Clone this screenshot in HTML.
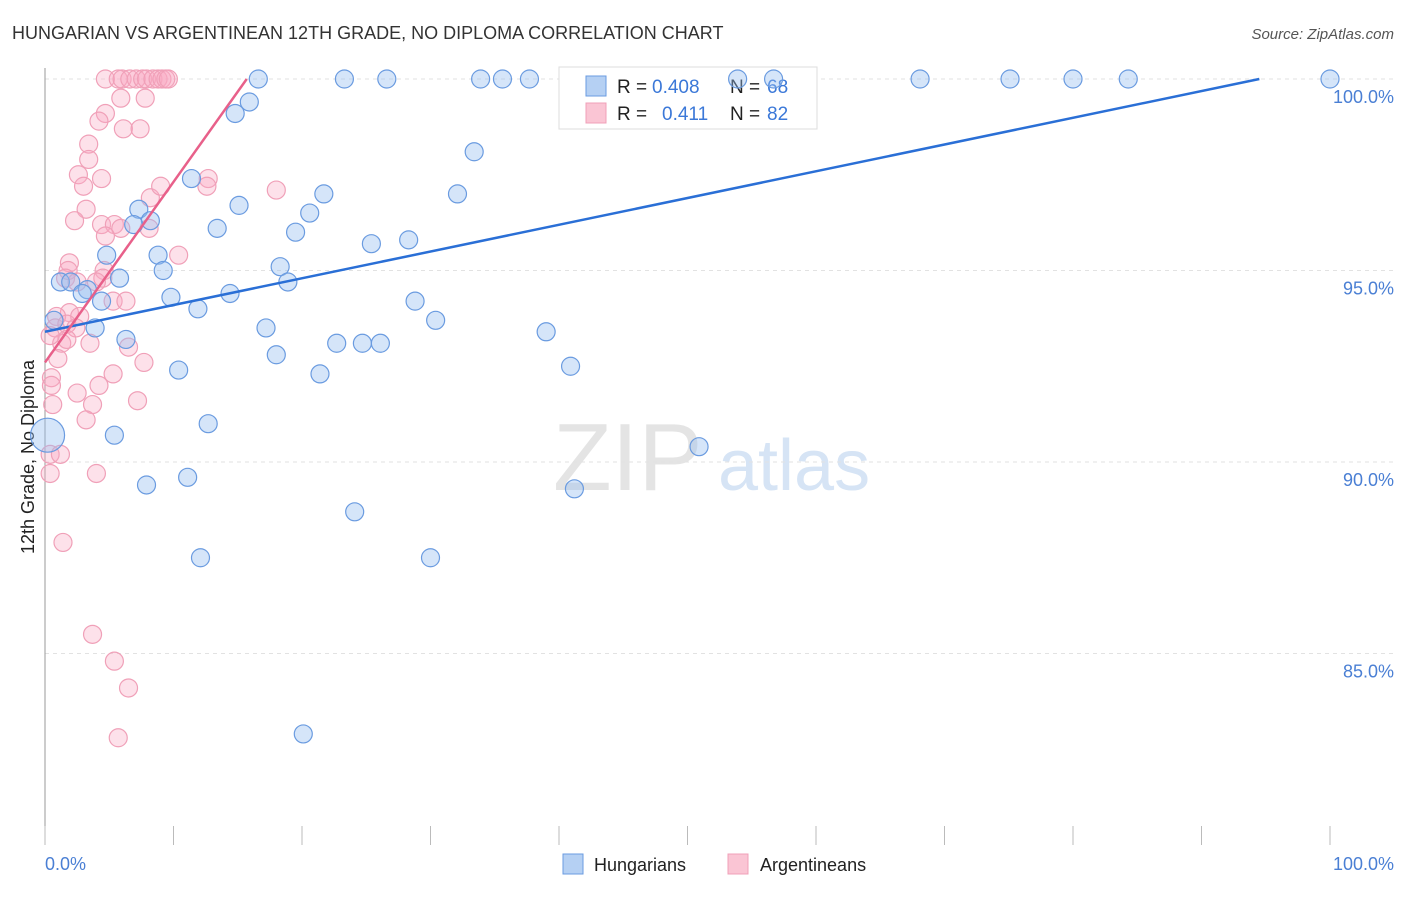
<!DOCTYPE html>
<html><head><meta charset="utf-8"><style>
body{margin:0;background:#fff;font-family:"Liberation Sans",sans-serif;}
svg text{font-family:"Liberation Sans",sans-serif;}
</style></head><body>
<svg id="chart" width="1406" height="892" viewBox="0 0 1406 892" xmlns="http://www.w3.org/2000/svg">
<text x="12" y="39" font-size="18" fill="#333">HUNGARIAN VS ARGENTINEAN 12TH GRADE, NO DIPLOMA CORRELATION CHART</text>
<text x="1394" y="39" font-size="15" fill="#555" text-anchor="end" font-style="italic">Source: ZipAtlas.com</text>
<g>
<text x="553" y="490" font-size="96" fill="#e4e4e4" font-family="Liberation Serif, serif">ZIP</text>
<text x="718" y="490" font-size="72" fill="#d6e4f5">atlas</text>
</g>
<g id="grid"></g>
<line x1="45" y1="68" x2="45" y2="845" stroke="#999" stroke-width="1"/>
<g id="xticks"></g>
<text transform="translate(34,457) rotate(-90)" font-size="18" fill="#222" text-anchor="middle">12th Grade, No Diploma</text>
<text x="45" y="870" font-size="18" fill="#4a7fd4">0.0%</text>
<text x="1394" y="870" font-size="18" fill="#4a7fd4" text-anchor="end">100.0%</text>
<g>
<rect x="559" y="67" width="258" height="62" fill="#fff" stroke="#ddd"/>
<rect x="586" y="76" width="20" height="20" fill="#b5d0f3" stroke="#6a9be0"/>
<rect x="586" y="103" width="20" height="20" fill="#fac5d4" stroke="#f0a0b8"/>
<text x="617" y="93" font-size="19" fill="#222">R =</text>
<text x="652" y="93" font-size="19" fill="#3b78d8">0.408</text>
<text x="730" y="93" font-size="19" fill="#222">N =</text>
<text x="767" y="93" font-size="19" fill="#3b78d8">68</text>
<text x="617" y="120" font-size="19" fill="#222">R =</text>
<text x="662" y="120" font-size="19" fill="#3b78d8">0.411</text>
<text x="730" y="120" font-size="19" fill="#222">N =</text>
<text x="767" y="120" font-size="19" fill="#3b78d8">82</text>
</g>
<g id="pts"></g>
<g id="lines"></g>
<g>
<rect x="563" y="854" width="20" height="20" fill="#b5d0f3" stroke="#6a9be0"/>
<text x="594" y="871" font-size="18" fill="#222">Hungarians</text>
<rect x="728" y="854" width="20" height="20" fill="#fac5d4" stroke="#f0a0b8"/>
<text x="760" y="871" font-size="18" fill="#222">Argentineans</text>
</g>
</svg>
<script>
const yTicks=[100,95,90,85];
const yTickLabels=["100.0%","95.0%","90.0%","85.0%"];
const xTickVals=[0,10,20,30,40,50,60,70,80,90,100];
const blueX=[16.6,23.3,26.6,33.9,35.6,37.7,53.9,56.7,68.1,75.1,80.0,84.3,100.0,15.9,14.8,33.4,11.4,32.1,21.7,15.1,20.6,7.3,8.2,6.9,13.4,19.5,25.4,28.3,4.8,8.8,9.2,18.3,1.2,2.0,3.3,2.9,18.9,5.8,4.4,9.8,14.4,11.9,28.8,30.4,0.7,3.9,17.2,39.0,6.3,22.7,24.7,26.1,18.0,10.4,21.4,40.9,12.7,5.4,0.2,50.9,7.9,11.1,41.2,24.1,12.1,30.0,20.1];
const blueY=[100,100,100,100,100,100,100,100,100,100,100,100,100,99.4,99.1,98.1,97.4,97.0,97.0,96.7,96.5,96.6,96.3,96.2,96.1,96.0,95.7,95.8,95.4,95.4,95.0,95.1,94.7,94.7,94.5,94.4,94.7,94.8,94.2,94.3,94.4,94.0,94.2,93.7,93.7,93.5,93.5,93.4,93.2,93.1,93.1,93.1,92.8,92.4,92.3,92.5,91.0,90.7,90.7,90.4,89.4,89.6,89.3,88.7,87.5,87.5,82.9];
const pinkX=[4.7,5.7,6.0,6.6,7.1,7.6,7.9,8.4,8.8,9.1,9.4,9.6,5.9,7.8,4.7,6.1,7.4,4.2,3.4,3.4,2.6,3.0,4.4,12.7,12.6,18.0,8.2,9.0,3.2,2.3,4.4,5.4,5.9,8.1,4.7,10.4,1.9,1.8,1.6,4.6,4.5,2.5,4.0,5.3,6.3,1.9,2.7,0.9,0.8,1.7,2.4,1.3,3.5,1.7,0.4,6.5,1.0,7.7,5.3,0.5,0.5,4.2,2.5,7.2,3.7,0.6,3.2,0.4,1.2,4.0,0.4,1.4,3.7,5.4,6.5,5.7];
const pinkY=[100,100,100,100,100,100,100,100,100,100,100,100,99.5,99.5,99.1,98.7,98.7,98.9,98.3,97.9,97.5,97.2,97.4,97.4,97.2,97.1,96.9,97.2,96.6,96.3,96.2,96.2,96.1,96.1,95.9,95.4,95.2,95.0,94.8,95.0,94.8,94.7,94.7,94.2,94.2,93.9,93.8,93.8,93.5,93.6,93.5,93.1,93.1,93.2,93.3,93.0,92.7,92.6,92.3,92.2,92.0,92.0,91.8,91.6,91.5,91.5,91.1,90.2,90.2,89.7,89.7,87.9,85.5,84.8,84.1,82.8];
const blueTrendX=[0,94.5];
const blueTrendY=[93.4,100];
const pinkTrendX=[0,15.7];
const pinkTrendY=[92.6,100];

const NS="http://www.w3.org/2000/svg";
const xs=v=>45+v*12.85;
const ys=v=>845-(v-80)*38.3;
function mk(tag,attrs,parent){const e=document.createElementNS(NS,tag);for(const k in attrs)e.setAttribute(k,attrs[k]);parent.appendChild(e);return e;}
const grid=document.getElementById('grid');
yTicks.forEach((t,i)=>{
  const l=mk('line',{x1:45,x2:1394,y1:ys(t),y2:ys(t),stroke:'#e2e2e2','stroke-dasharray':'4,4'},grid);
  
  
  const tx=mk('text',{x:1394,y:ys(t)+24,'font-size':18,fill:'#4a7fd4','text-anchor':'end'},grid);
  tx.textContent=yTickLabels[i];
  
  
});
const xt=document.getElementById('xticks');
xTickVals.forEach(v=>{
  const l=mk('line',{x1:xs(v),x2:xs(v),y1:826,y2:845,stroke:'#bbb'},xt);
  
  
});
const pts=document.getElementById('pts');
pinkX.forEach((x,i)=>{
  const c=mk('circle',{cx:xs(x),cy:ys(pinkY[i]),r:9,fill:'rgba(248,170,195,0.35)',stroke:'#f0a0b8','stroke-width':1.2},pts);
  
  
});
blueX.forEach((x,i)=>{
  const c=mk('circle',{cx:xs(x),cy:ys(blueY[i]),r:(x<0.5&&blueY[i]<91)?17:9,fill:'rgba(150,190,240,0.4)',stroke:'#6a9be0','stroke-width':1.2},pts);
  
  
});
const lines=document.getElementById('lines');
const bl=mk('line',{x1:xs(blueTrendX[0]),y1:ys(blueTrendY[0]),x2:xs(blueTrendX[1]),y2:ys(blueTrendY[1]),stroke:'#2a6fd6','stroke-width':2.5},lines);


const pl=mk('line',{x1:xs(pinkTrendX[0]),y1:ys(pinkTrendY[0]),x2:xs(pinkTrendX[1]),y2:ys(pinkTrendY[1]),stroke:'#e8608a','stroke-width':2.5},lines);


</script>
</body></html>
